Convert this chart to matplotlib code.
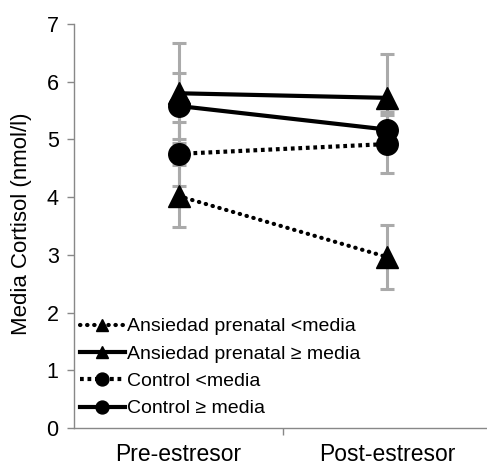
import matplotlib.pyplot as plt
import numpy as np

plt.rcParams['font.family'] = ['Liberation Sans', 'DejaVu Sans']

momentos = ["Pre-estresor", "Post-estresor"]
x = np.array([1, 2])

# medias y error (nmol/l)
ans_bajo = [4.02, 2.96]
ans_bajo_err = [0.54, 0.56]
ans_alto = [5.80, 5.72]
ans_alto_err = [0.87, 0.76]
ctl_bajo = [4.75, 4.92]
ctl_bajo_err = [0.55, 0.50]
ctl_alto = [5.58, 5.17]
ctl_alto_err = [0.57, 0.30]

fig = plt.figure(figsize=(4.87, 4.66), dpi=100)
ax = fig.add_axes([74 / 487, 38 / 466, 418 / 487, 404 / 466])

gris = "#aaaaaa"
series = [
    (ans_bajo, ans_bajo_err, "^", (0, (0.1, 1.6)), "round", "Ansiedad prenatal <media"),
    (ans_alto, ans_alto_err, "^", "-", "butt", "Ansiedad prenatal \u2265 media"),
    (ctl_bajo, ctl_bajo_err, "o", (0, (0.9, 0.9)), "butt", "Control <media"),
    (ctl_alto, ctl_alto_err, "o", "-", "butt", "Control \u2265 media"),
]

# barras de error primero
for y, e, m, ls, cap, lab in series:
    ax.errorbar(x, y, yerr=e, fmt="none", ecolor=gris, elinewidth=2.2,
                capsize=5, capthick=2.2, zorder=1)

for y, e, m, ls, cap, lab in series:
    ax.plot(x, y, color="black", linestyle=ls, linewidth=3,
            dash_capstyle=cap, marker=m, markersize=15.5,
            label=lab, zorder=3)

ax.set_xlim(0.5, 2.5)
ax.set_ylim(0, 7)
ax.set_yticks(range(8))
ax.set_xticks(x)
ax.set_xticklabels(momentos)
ax.set_xticks([1.5], minor=True)
ax.tick_params(axis="x", which="major", length=0, pad=11, labelsize=16.5)
ax.tick_params(axis="x", which="minor", length=5, width=1, color="#888888")
ax.tick_params(axis="y", length=5, width=1, color="#888888", labelsize=15.5, pad=6)
ax.set_ylabel("Media Cortisol (nmol/l)", fontsize=16)
ax.yaxis.set_label_coords(-0.101, 0.505)

for s in ["top", "right"]:
    ax.spines[s].set_visible(False)
for s in ["left", "bottom"]:
    ax.spines[s].set_color("#888888")
    ax.spines[s].set_linewidth(1)

leg = ax.legend(loc="lower left", bbox_to_anchor=(0.0, 0.012), frameon=False,
                fontsize=14, markerscale=0.6, handlelength=2.3, borderpad=0,
                handletextpad=0.15, labelspacing=0.5, borderaxespad=0.3)

fig.savefig("out.png", dpi=100)
